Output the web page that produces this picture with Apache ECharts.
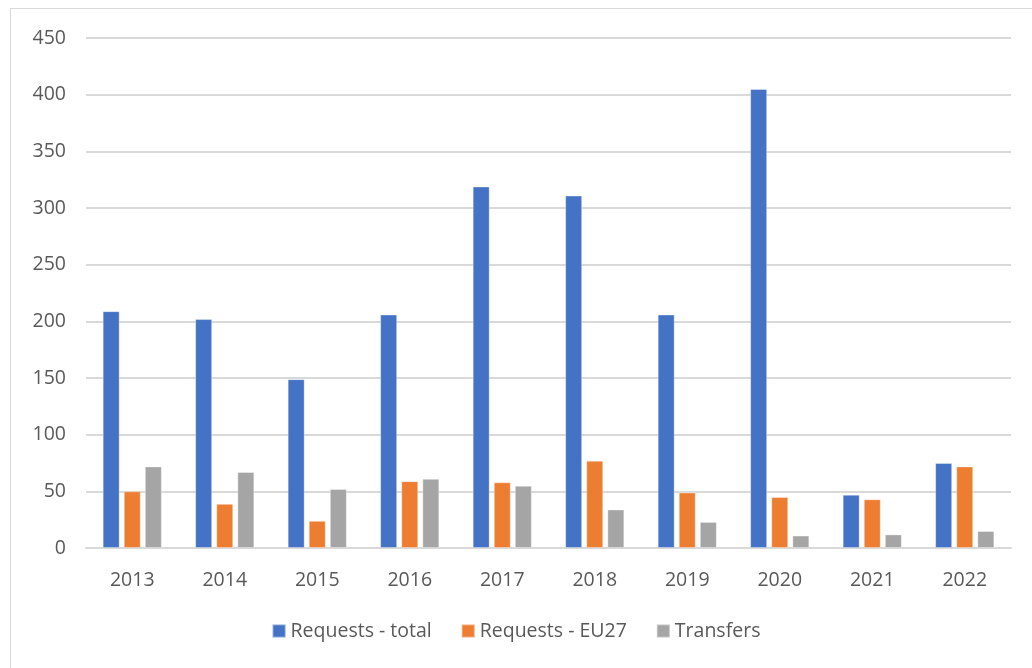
<!DOCTYPE html>
<html>
<head>
    <meta charset="utf-8">
    <title>Requests and transfers</title>
    <script src="https://cdn.jsdelivr.net/npm/echarts@6/dist/echarts.min.js"></script>
    <style>
        body { margin: 0; background: #fff; }
        .frame {
            position: absolute;
            left: 10px;
            top: 8px;
            width: 1040px;
            height: 680px;
            border: 1px solid #d9d9d9;
        }
        #chart { position: absolute; left: 0; top: 0; width: 1032px; height: 668px; }
    </style>
</head>
<body>
    <div class="frame"></div>
    <div id="chart"></div>

    <script>
        // data
        const years = ['2013', '2014', '2015', '2016', '2017', '2018', '2019', '2020', '2021', '2022'];
        const requestsTotal = [209, 202, 149, 206, 319, 311, 206, 405, 47, 75];
        const requestsEU27 = [50, 39, 24, 59, 58, 77, 49, 45, 43, 72];
        const transfers = [72, 67, 52, 61, 55, 34, 23, 11, 12, 15];
        const seriesNames = ['Requests - total', 'Requests - EU27', 'Transfers'];
        const colors = ['#4472C4', '#ED7D31', '#A5A5A5'];

        const font = 'Open Sans, Noto Sans, sans-serif';
        const chart = echarts.init(document.getElementById('chart'));

        function bar(name, data, color) {
            return {
                name: name,
                type: 'bar',
                data: data,
                barWidth: 17,
                barGap: '24%',
                itemStyle: { color: color, borderColor: 'rgba(255,255,255,0.35)', borderWidth: 1 }
            };
        }

        chart.setOption({
            animation: false,
            color: colors,
            grid: { left: 86, right: 21, top: 38, bottom: 120 },
            legend: {
                data: seriesNames,
                bottom: 22,
                left: 'center',
                itemWidth: 13,
                itemHeight: 13,
                itemGap: 29,
                icon: 'rect',
                textStyle: { color: '#595959', fontSize: 19.5, fontFamily: font }
            },
            xAxis: {
                type: 'category',
                data: years,
                axisLine: { lineStyle: { color: '#d9d9d9', width: 2 } },
                axisTick: { show: false },
                axisLabel: { color: '#595959', fontSize: 19.5, fontFamily: font, margin: 22 }
            },
            yAxis: {
                type: 'value',
                min: 0,
                max: 450,
                interval: 50,
                axisLine: { show: false },
                axisTick: { show: false },
                splitLine: { lineStyle: { color: '#d9d9d9', width: 2 } },
                axisLabel: { color: '#595959', fontSize: 19.5, fontFamily: font, margin: 20 }
            },
            series: [
                bar(seriesNames[0], requestsTotal, colors[0]),
                bar(seriesNames[1], requestsEU27, colors[1]),
                bar(seriesNames[2], transfers, colors[2])
            ]
        });
    </script>
</body>
</html>
